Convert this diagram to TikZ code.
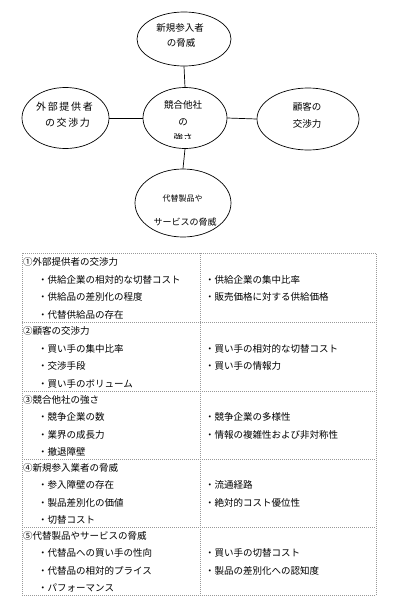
\documentclass[tikz,border=0pt]{standalone}
\usepackage{fontspec}
\newfontfamily\jp{Noto Sans CJK JP}
\usetikzlibrary{shapes.geometric}
\begin{document}
\begin{tikzpicture}[x=1pt,y=-1pt,
  oval/.style={draw, ellipse, line width=0.7pt, inner sep=0pt},
  lbl/.style={font=\jp\fontsize{9.5}{11}\selectfont, inner sep=0pt},
  cell/.style={font=\jp\fontsize{9.5}{11}\selectfont, inner sep=0pt, anchor=west},
  grid/.style={draw=gray!80, line width=0.6pt, dash pattern=on 1pt off 1pt},
  link/.style={draw, line width=0.7pt}]
\useasboundingbox (0,0) rectangle (400,608);
% ellipses
\node[oval, minimum width=94pt, minimum height=54pt] (top) at (184,39) {};
\node[oval, minimum width=87pt, minimum height=61pt] (left) at (65.5,118) {};
\node[oval, minimum width=84pt, minimum height=61pt] (mid) at (185,118) {};
\node[oval, minimum width=102pt, minimum height=62pt] (right) at (308,119) {};
\node[oval, minimum width=96pt, minimum height=68pt] (bot) at (183,203) {};
% connectors
\draw[link] (top.south) -- (mid.north);
\draw[link] (left.east) -- (mid.west);
\draw[link] (mid.east) -- (right.west);
\draw[link] (mid.south) -- (bot.north);
% ellipse texts
\node[lbl] (t1) at (180,28) {新規参入者};
\node[lbl] (t2) at (181,43) {の脅威};
\node[lbl, font=\jp\fontsize{10}{11}\selectfont] (l1) at (64.5,107) {外\,部\,提\,供\,者};
\node[lbl, font=\jp\fontsize{10}{11}\selectfont] (l2) at (67.5,123) {の\,交\,渉\,力};
\node[lbl] (m1) at (183,105) {競合他社};
\node[lbl] (m2) at (183,122) {の};
\begin{scope}
\clip (120,125) rectangle (250,138.5);
\node[lbl] (m3) at (183,137.5) {強さ};
\end{scope}
\node[lbl] (r1) at (307,107) {顧客の};
\node[lbl] (r2) at (307,124) {交渉力};
\node[lbl, font=\jp\fontsize{8}{10}\selectfont] (b1) at (182.5,198) {代替製品や};
\node[lbl, font=\jp\fontsize{9}{10}\selectfont] (b2) at (185,222) {サービスの脅威};
% table
\draw[grid] (22,253) rectangle (376,595);
\draw[grid] (200,253) -- (200,595);
\draw[grid] (22,322) -- (376,322);
\draw[grid] (22,391) -- (376,391);
\draw[grid] (22,459) -- (376,459);
\draw[grid] (22,527) -- (376,527);
% row 1
\node[cell] (h1) at (23,262) {①外部提供者の交渉力};
\node[cell] (a11) at (38,279.5) {・供給企業の相対的な切替コスト};
\node[cell] (a12) at (38,297) {・供給品の差別化の程度};
\node[cell] (a13) at (38,314.5) {・代替供給品の存在};
\node[cell] (b11) at (205,279.5) {・供給企業の集中比率};
\node[cell] (b12) at (205,297) {・販売価格に対する供給価格};
% row 2
\node[cell] (h2) at (23,331) {②顧客の交渉力};
\node[cell] (a21) at (38,348.5) {・買い手の集中比率};
\node[cell] (a22) at (38,366) {・交渉手段};
\node[cell] (a23) at (38,383.5) {・買い手のボリューム};
\node[cell] (b21) at (205,348.5) {・買い手の相対的な切替コスト};
\node[cell] (b22) at (205,366) {・買い手の情報力};
% row 3
\node[cell] (h3) at (23,399.5) {③競合他社の強さ};
\node[cell] (a31) at (38,417) {・競争企業の数};
\node[cell] (a32) at (38,434.5) {・業界の成長力};
\node[cell] (a33) at (38,452) {・撤退障壁};
\node[cell] (b31) at (205,417) {・競争企業の多様性};
\node[cell] (b32) at (205,434.5) {・情報の複雑性および非対称性};
% row 4
\node[cell] (h4) at (23,467.5) {④新規参入業者の脅威};
\node[cell] (a41) at (38,485) {・参入障壁の存在};
\node[cell] (a42) at (38,502.5) {・製品差別化の価値};
\node[cell] (a43) at (38,520) {・切替コスト};
\node[cell] (b41) at (205,485) {・流通経路};
\node[cell] (b42) at (205,502.5) {・絶対的コスト優位性};
% row 5
\node[cell] (h5) at (23,535.5) {⑤代替製品やサービスの脅威};
\node[cell] (a51) at (38,553) {・代替品への買い手の性向};
\node[cell] (a52) at (38,570.5) {・代替品の相対的プライス};
\node[cell] (a53) at (38,588) {・パフォーマンス};
\node[cell] (b51) at (205,553) {・買い手の切替コスト};
\node[cell] (b52) at (205,570.5) {・製品の差別化への認知度};
\end{tikzpicture}
\end{document}
